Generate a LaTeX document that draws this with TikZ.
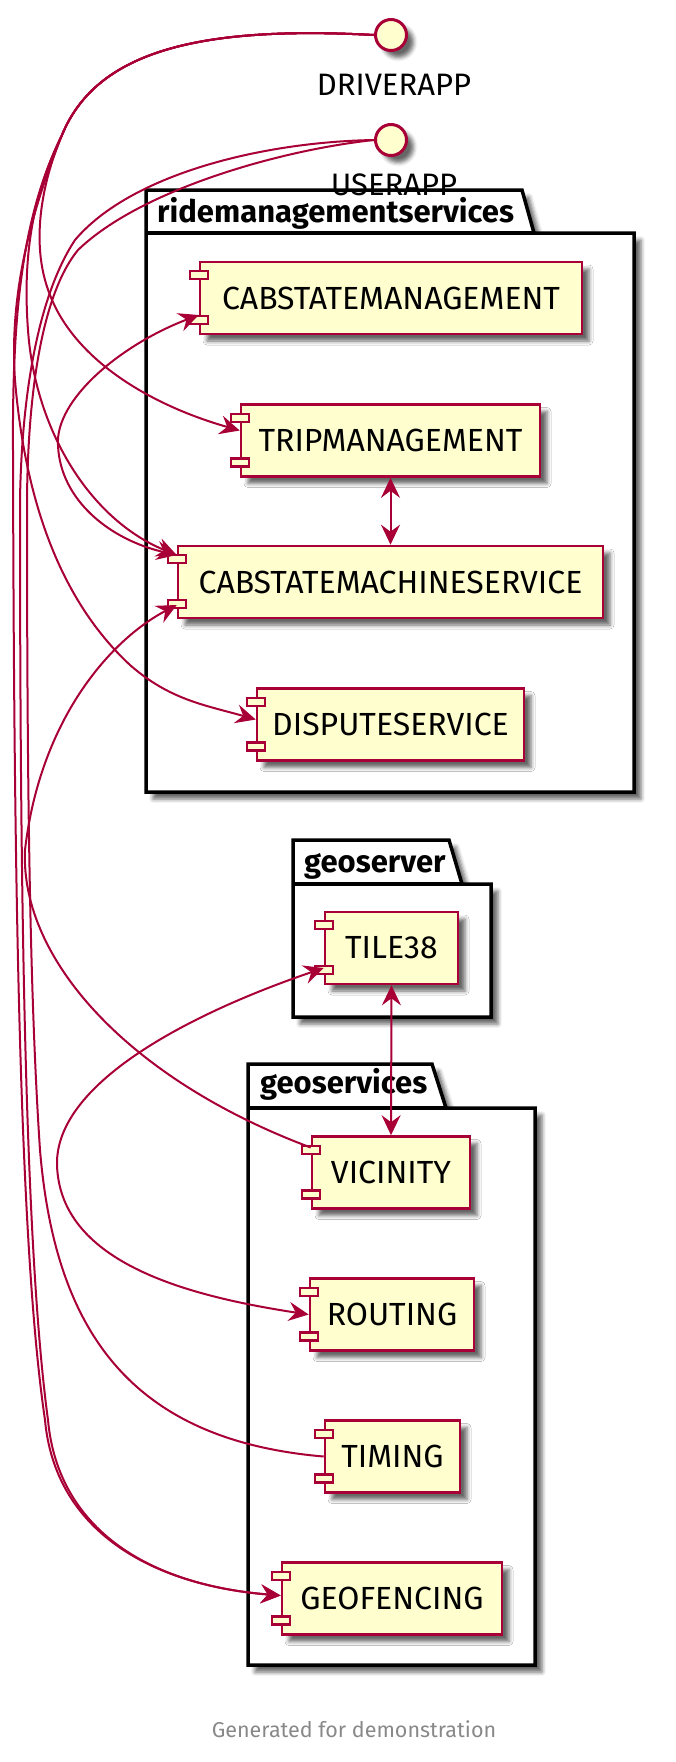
\documentclass[tikz,border=0pt]{standalone}
\usepackage{fontspec}
\setmainfont{Fira Sans}
\usetikzlibrary{arrows.meta,shadows.blur}
\definecolor{umlred}{HTML}{A80036}
\definecolor{umlyellow}{HTML}{FEFECE}
\definecolor{footgray}{HTML}{888888}
\tikzset{
  umlshadow/.style={blur shadow={shadow xshift=7pt,shadow yshift=-7pt,shadow blur radius=4pt,shadow opacity=60}},
  comp/.style={draw=umlred,fill=umlyellow,line width=2.6pt,minimum height=72pt,inner sep=0pt,
    font=\fontsize{32}{38}\selectfont,umlshadow},
  port/.style={draw=umlred,fill=umlyellow,line width=2.4pt},
  iface/.style={circle,draw=umlred,fill=umlyellow,line width=3pt,minimum size=31pt,inner sep=0pt,umlshadow},
  applabel/.style={anchor=base,inner sep=0pt,font=\fontsize{31}{37}\selectfont},
  pkg/.style={draw=black,fill=white,line width=3.5pt,line join=miter,umlshadow},
  pkgline/.style={draw=black,line width=3.5pt},
  pkglabel/.style={anchor=base west,inner sep=0pt,font=\fontsize{31}{37}\selectfont\bfseries},
  link/.style={draw=umlred,line width=2pt}
}
\begin{document}
\begin{tikzpicture}[x=1pt,y=-1pt,>={Stealth[length=20pt,width=19pt,inset=7pt]}]
\useasboundingbox (0,0) rectangle (676,1762);

% packages
\draw[pkg] (146,190)--(522,190)--(534,233)--(634,233)--(634,792)--(146,792)--cycle;
\draw[pkgline] (146,233)--(534,233);
\node[pkglabel] (rmsl) at (157,222) {ridemanagementservices};
\draw[pkg] (293,840)--(449,840)--(462,884)--(491,884)--(491,1017)--(293,1017)--cycle;
\draw[pkgline] (293,884)--(462,884);
\node[pkglabel] (gsrvl) at (304,872) {geoserver};
\draw[pkg] (248,1064)--(432,1064)--(446,1108)--(535,1108)--(535,1665)--(248,1665)--cycle;
\draw[pkgline] (248,1108)--(446,1108);
\node[pkglabel] (gsvcl) at (260,1093) {geoservices};

% interfaces
\node[iface] (drv) at (391,35) {};
\node[applabel] (drvl) at (394,95) {DRIVERAPP};
\node[iface] (usr) at (391,140) {};

% components
\node[comp,minimum width=382pt] (cabmgmt) at (391,298) {CABSTATEMANAGEMENT};
\node[comp,minimum width=299pt] (trip) at (390.5,440.5) {TRIPMANAGEMENT};
\node[comp,minimum width=425pt] (csms) at (390.5,582) {CABSTATEMACHINESERVICE};
\node[comp,minimum width=267pt] (dispute) at (390.5,724.5) {DISPUTESERVICE};
\node[comp,minimum width=133pt] (tile) at (391.5,948) {TILE38};
\node[comp,minimum width=158pt] (vicinity) at (391,1172.5) {VICINITY};
\node[comp,minimum width=164pt] (routing) at (392,1314.5) {ROUTING};
\node[comp,minimum width=135pt] (timing) at (392.5,1456.5) {TIMING};
\node[comp,minimum width=220pt] (geo) at (392,1598.5) {GEOFENCING};

\foreach \c in {cabmgmt,trip,csms,dispute,tile,vicinity,routing,timing,geo}{
  \draw[port] ([xshift=-9pt,yshift=-10.5pt]\c.north west) rectangle ([xshift=9pt,yshift=-18.5pt]\c.north west);
  \draw[port] ([xshift=-9pt,yshift=11.5pt]\c.south west) rectangle ([xshift=9pt,yshift=19.5pt]\c.south west);
}

\node[applabel] (usrl) at (394,195) {USERAPP};

% links
\draw[link,->] (drv.west) .. controls (190,25) and (95,55) .. (62,135)
  .. controls (45,175) and (28,240) .. (50,295) .. controls (75,360) and (150,405) .. ([yshift=10pt]trip.west);
\draw[link,->] (drv.west) .. controls (190,25) and (95,55) .. (62,135)
  .. controls (40,190) and (8,280) .. (15,380) .. controls (25,500) and (60,600) .. (130,665)
  .. controls (170,700) and (205,705) .. ([yshift=5pt]dispute.west);
\draw[link,->] (drv.west) .. controls (190,25) and (95,55) .. (62,135)
  .. controls (35,190) and (22,250) .. (28,330) .. controls (35,430) and (90,520) .. ([yshift=27pt]csms.west);
\draw[link,->] (drv.west) .. controls (190,25) and (95,55) .. (62,135)
  .. controls (25,210) and (12,300) .. (13,450) .. controls (14,900) and (20,1250) .. (45,1420)
  .. controls (55,1530) and (150,1585) .. ([yshift=3pt]geo.west);
\draw[link,->] (usr.west) .. controls (260,142) and (130,175) .. (75,240)
  .. controls (42,290) and (22,380) .. (20,500) .. controls (20,900) and (25,1250) .. (48,1420)
  .. controls (58,1530) and (150,1585) .. ([yshift=3pt]geo.west);
\draw[link] (usr.west) .. controls (280,150) and (140,190) .. (78,250)
  .. controls (45,290) and (28,380) .. (27,500) .. controls (27,800) and (30,1000) .. (40,1150)
  .. controls (55,1330) and (130,1440) .. (timing.west);
\draw[link,<->] ([yshift=-17pt]cabmgmt.west) .. controls (120,345) and (55,400) .. (58,445)
  .. controls (60,500) and (110,540) .. ([yshift=27pt]csms.west);
\draw[link,->] ([yshift=25pt]vicinity.west) .. controls (130,1080) and (20,960) .. (25,850)
  .. controls (40,720) and (110,640) .. ([yshift=-23pt]csms.west);
\draw[link,<->] (trip.south) -- (csms.north);
\draw[link,<->] (tile.south) -- (vicinity.north);
\draw[link,<->] ([yshift=-20pt]tile.west) .. controls (200,1010) and (55,1080) .. (57,1165)
  .. controls (60,1260) and (180,1295) .. (routing.west);

% footer
\node[anchor=base,inner sep=0pt,text=footgray,font=\fontsize{21.5}{26}\selectfont] (foot) at (354,1737) {Generated for demonstration};
\end{tikzpicture}
\end{document}
